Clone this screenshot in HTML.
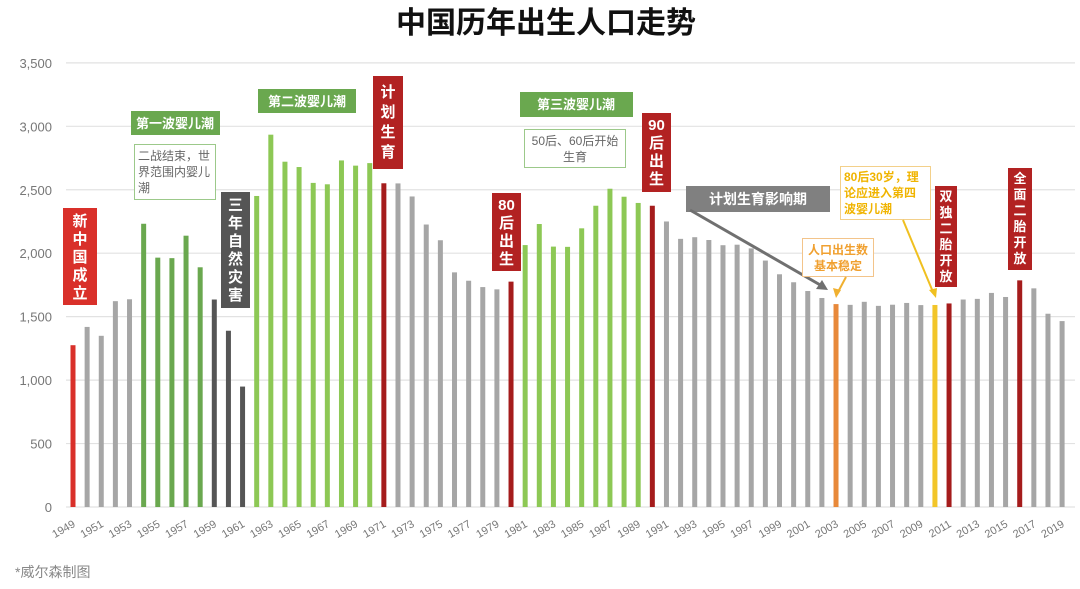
<!DOCTYPE html>
<html><head><meta charset="utf-8">
<style>
html,body{margin:0;padding:0;background:#fff;}
body{width:1080px;height:584px;overflow:hidden;position:relative;font-family:"Liberation Sans","Noto Sans CJK SC",sans-serif;}
svg text{font-family:"Liberation Sans","Noto Sans CJK SC",sans-serif;}
</style></head><body>
<svg id="s" width="1080" height="584" xmlns="http://www.w3.org/2000/svg">
<text x="546" y="33" text-anchor="middle" font-size="30" font-weight="bold" fill="#111">中国历年出生人口走势</text>
<g id="grid"></g>
<g id="bars"></g>
<g id="xl"></g>
<text x="15" y="577" font-size="14" fill="#888">*威尔森制图</text>

<rect x="63" y="208" width="34" height="97" fill="#d9302a"/>
<text font-size="15" font-weight="bold" fill="#fff" text-anchor="middle"><tspan x="80" y="226">新</tspan><tspan x="80" y="244">中</tspan><tspan x="80" y="262">国</tspan><tspan x="80" y="280">成</tspan><tspan x="80" y="298">立</tspan></text>

<rect x="131" y="111" width="89" height="24" fill="#6aa84f"/>
<text x="175" y="128" font-size="13" font-weight="bold" fill="#fff" text-anchor="middle">第一波婴儿潮</text>
<rect x="134.5" y="144.5" width="81" height="55" fill="#fff" stroke="#9cc98a"/>
<text font-size="12" fill="#666"><tspan x="138" y="160">二战结束，世</tspan><tspan x="138" y="176">界范围内婴儿</tspan><tspan x="138" y="192">潮</tspan></text>

<rect x="221" y="192" width="29" height="116" fill="#555"/>
<text font-size="15" font-weight="bold" fill="#fff" text-anchor="middle"><tspan x="235.5" y="210">三</tspan><tspan x="235.5" y="228">年</tspan><tspan x="235.5" y="246">自</tspan><tspan x="235.5" y="264">然</tspan><tspan x="235.5" y="282">灾</tspan><tspan x="235.5" y="300">害</tspan></text>

<rect x="258" y="89" width="98" height="24" fill="#6aa84f"/>
<text x="307" y="106" font-size="13" font-weight="bold" fill="#fff" text-anchor="middle">第二波婴儿潮</text>

<rect x="373" y="76" width="30" height="93" fill="#b22222"/>
<text font-size="15" font-weight="bold" fill="#fff" text-anchor="middle"><tspan x="388" y="97">计</tspan><tspan x="388" y="117">划</tspan><tspan x="388" y="137">生</tspan><tspan x="388" y="157">育</tspan></text>

<rect x="520" y="92" width="113" height="25" fill="#6aa84f"/>
<text x="576" y="109" font-size="13" font-weight="bold" fill="#fff" text-anchor="middle">第三波婴儿潮</text>
<rect x="524.5" y="129.5" width="101" height="38" fill="#fff" stroke="#9cc98a"/>
<text font-size="12" fill="#666" text-anchor="middle"><tspan x="575" y="145">50后、60后开始</tspan><tspan x="575" y="161">生育</tspan></text>

<rect x="492" y="193" width="29" height="78" fill="#b22222"/>
<text font-size="15" font-weight="bold" fill="#fff" text-anchor="middle"><tspan x="506.5" y="210">80</tspan><tspan x="506.5" y="228">后</tspan><tspan x="506.5" y="246">出</tspan><tspan x="506.5" y="264">生</tspan></text>

<rect x="642" y="113" width="29" height="79" fill="#b22222"/>
<text font-size="15" font-weight="bold" fill="#fff" text-anchor="middle"><tspan x="656.5" y="130">90</tspan><tspan x="656.5" y="148">后</tspan><tspan x="656.5" y="166">出</tspan><tspan x="656.5" y="184">生</tspan></text>

<rect x="686" y="186" width="144" height="26" fill="#808080"/>
<text x="758" y="204" font-size="14" font-weight="bold" fill="#fff" text-anchor="middle">计划生育影响期</text>
<line x1="690" y1="210" x2="822" y2="286" stroke="#707070" stroke-width="3"/>
<polygon points="828,290 816,289 822,280" fill="#707070"/>

<rect x="802.5" y="238.5" width="71" height="38" fill="#fff" stroke="#f3c48a"/>
<text font-size="12" font-weight="bold" fill="#f0a030" text-anchor="middle"><tspan x="838" y="254">人口出生数</tspan><tspan x="838" y="270">基本稳定</tspan></text>
<line x1="846" y1="277" x2="838" y2="292" stroke="#f0b030" stroke-width="2"/>
<polygon points="836,298 833,288 841,290" fill="#f0b030"/>

<rect x="840.5" y="166.5" width="90" height="53" fill="#fff" stroke="#f3d08a"/>
<text font-size="12" font-weight="bold" fill="#f0b400"><tspan x="844" y="181">80后30岁，理</tspan><tspan x="844" y="197">论应进入第四</tspan><tspan x="844" y="213">波婴儿潮</tspan></text>
<line x1="903" y1="220" x2="933" y2="292" stroke="#f0c020" stroke-width="2"/>
<polygon points="936,298 929,290 937,288" fill="#f0c020"/>

<rect x="935" y="186" width="22" height="101" fill="#b22222"/>
<text font-size="13" font-weight="bold" fill="#fff" text-anchor="middle"><tspan x="946" y="201">双</tspan><tspan x="946" y="217">独</tspan><tspan x="946" y="233">二</tspan><tspan x="946" y="249">胎</tspan><tspan x="946" y="265">开</tspan><tspan x="946" y="281">放</tspan></text>

<rect x="1008" y="168" width="24" height="102" fill="#b22222"/>
<text font-size="13" font-weight="bold" fill="#fff" text-anchor="middle"><tspan x="1020" y="183">全</tspan><tspan x="1020" y="199">面</tspan><tspan x="1020" y="215">二</tspan><tspan x="1020" y="231">胎</tspan><tspan x="1020" y="247">开</tspan><tspan x="1020" y="263">放</tspan></text>
</svg>
<script>
(function(){
var NS="http://www.w3.org/2000/svg";
function el(t,a,p){var e=document.createElementNS(NS,t);for(var k in a)e.setAttribute(k,a[k]);p.appendChild(e);return e;}
var g=document.getElementById('grid');
for(var i=0;i<=7;i++){
  var v=i*500,y=507-v*0.1269;
  el('line',{x1:66,x2:1075,y1:y,y2:y,stroke:'#e2e2e2','stroke-width':1.2},g);
  var t=el('text',{x:52,y:y+5,'font-size':13,fill:'#777','text-anchor':'end'},g);
  t.textContent=v==0?'0':(v>=1000?(Math.floor(v/1000)+','+String(v%1000).padStart(3,'0')):v);
}
var d=[1275,1419,1349,1622,1637,2232,1965,1961,2138,1889,1635,1389,949,2451,2934,2721,2679,2554,2543,2731,2690,2710,2551,2550,2447,2226,2102,1849,1783,1733,1715,1776,2064,2230,2052,2050,2196,2374,2508,2445,2396,2374,2250,2113,2126,2104,2063,2067,2038,1942,1834,1771,1702,1647,1599,1593,1617,1585,1594,1608,1591,1592,1604,1635,1640,1687,1655,1786,1723,1523,1465];
var b=document.getElementById('bars'),xl=document.getElementById('xl');
for(var i=0;i<d.length;i++){
  var yr=1949+i,x=73+i*14.13;
  var c='#a6a6a6';
  if(yr>=1954&&yr<=1958)c='#6aa84f';
  if(yr>=1959&&yr<=1961)c='#555';
  if((yr>=1962&&yr<=1970)||(yr>=1981&&yr<=1989))c='#8dc855';
  if(yr==1949)c='#d9302a';
  if(yr==1971||yr==1980||yr==1990||yr==2011||yr==2016)c='#a51c1c';
  if(yr==2003)c='#e8893a';
  if(yr==2010)c='#f2c529';
  var h=d[i]*0.1269;
  el('rect',{x:x-2.5,y:507-h,width:5,height:h,fill:c},b);
  if(i%2==0){
    var t=el('text',{x:x+3,y:526,'font-size':11,fill:'#777','text-anchor':'end',transform:'rotate(-30 '+(x+3)+' 526)'},xl);
    t.textContent=yr;
  }
}
})();
</script>
</body></html>
